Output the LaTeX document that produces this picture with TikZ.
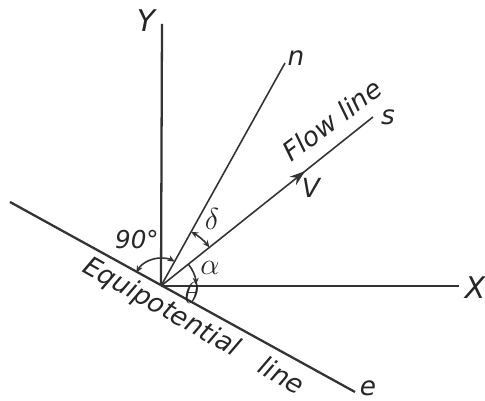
\documentclass[tikz,border=0pt]{standalone}
\usepackage{fontspec}
\setmainfont{DejaVu Sans}
\usetikzlibrary{arrows.meta,decorations.markings}
\begin{document}
\begin{tikzpicture}[x=0.02cm,y=0.02cm,
  ln/.style={line width=1.3pt, draw=black!80},
  thn/.style={line width=0.9pt, draw=black!80},
  lbl/.style={font=\itshape\fontsize{15}{18}\selectfont, text=black!85, inner sep=0pt},
  big/.style={font=\itshape\fontsize{17}{20}\selectfont, text=black!85, inner sep=0pt},
  mlbl/.style={font=\fontsize{19}{22}\selectfont, text=black!85, inner sep=0pt},
  atip/.style={{Stealth[length=4pt,width=3.5pt]}-{Stealth[length=4pt,width=3.5pt]}},
  rtip/.style={-{Stealth[length=4pt,width=3.5pt]}},
  midarrow/.style={postaction={decorate},decoration={markings,
    mark=at position 0.68 with {\arrow{Stealth[length=9pt,width=6pt]}}}}]
\useasboundingbox (0,0) rectangle (485,401);
\coordinate (O) at (161,115);
\coordinate (Ytop) at (162,377);
\coordinate (Xend) at (459,115);
\coordinate (Eq1) at (10,199);
\coordinate (Eq2) at (355,9);
\coordinate (nend) at (285,338);
\coordinate (send) at (373,284);
% axes and lines
\draw[ln] (O) -- (Ytop);
\draw[ln] (O) -- (Xend);
\draw[ln] (Eq1) -- (Eq2);
\draw[thn] (O) -- (nend);
\draw[thn, midarrow] (O) -- (send);
% angle arcs
\draw[thn, atip] ([shift={(151.4:28)}]O) arc[start angle=151.4, end angle=60.9, radius=28];
\draw[thn, rtip] ([shift={(38.6:35)}]O) arc[start angle=38.6, end angle=2, radius=35];
\draw[thn, atip] ([shift={(38.6:62)}]O) arc[start angle=38.6, end angle=60.9, radius=62];
% labels
\node[big] (ly) at (146,380) {Y};
\node[big] (lx) at (475,113) {X};
\node[lbl] (ln) at (296,343) {n};
\node[lbl] (ls) at (388,284) {s};
\node[lbl] (le) at (368,13) {e};
\node[lbl] (lv) at (311,213) {V};
\node[lbl, font=\itshape\fontsize{14}{16}\selectfont] (l90) at (137,161) {90°};
\node[mlbl] (la) at (210,133) {$\alpha$};
\node[mlbl] (ld) at (212,182) {$\delta$};
\node[mlbl] (lt) at (192,108) {$\theta$};
\node[lbl, rotate=37] (lflow) at (332,281) {Flow line};
\node[lbl, rotate=-29.5] (leq) at (161,93) {Equipotential};
\node[lbl, rotate=-29.5] (lline) at (282,26) {line};
\end{tikzpicture}
\end{document}
